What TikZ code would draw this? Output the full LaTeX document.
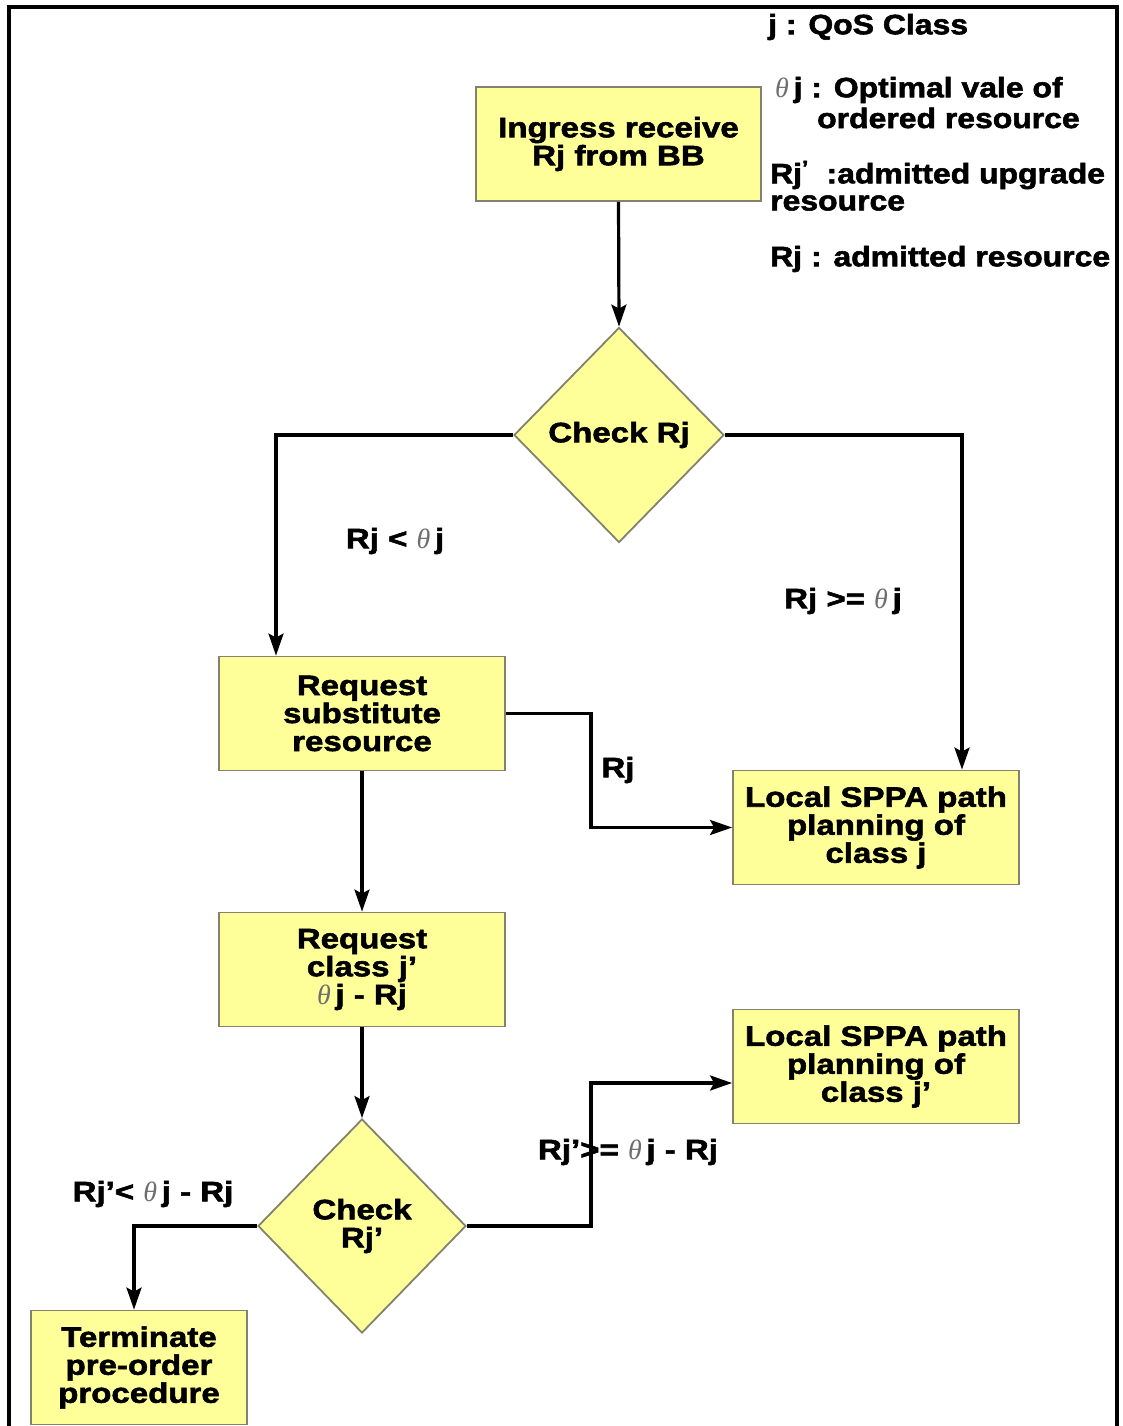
\documentclass[tikz,border=0pt]{standalone}
\usepackage{fontspec}
\setmainfont{Liberation Sans}
\newfontfamily\lblfont{Liberation Sans Bold}[FakeStretch=1.18,FakeBold=2]
\newfontfamily\lgdfont{Liberation Sans Bold}[FakeStretch=1.14,FakeBold=2]
\newfontfamily\thetafont{Liberation Serif Italic}
\usetikzlibrary{shapes.geometric,arrows.meta}
\definecolor{boxfill}{RGB}{255,255,153}
\definecolor{boxborder}{RGB}{130,130,110}
\definecolor{thetagray}{RGB}{110,110,110}
\newcommand\tht{{\thetafont\color{thetagray}θ}\,}
\tikzset{
  txt/.style={font=\lblfont\fontsize{28}{28}\selectfont, align=center, inner sep=0pt},
  stepbox/.style={txt, draw=boxborder, fill=boxfill, line width=1.8pt, minimum width=286pt, minimum height=114pt},
  decision/.style={txt, diamond, draw=boxborder, fill=boxfill, line width=1.8pt, minimum width=210pt, minimum height=215pt},
  arr/.style={line width=3.2pt, -{Stealth[length=22pt,width=15pt,inset=4pt]}},
  lgd/.style={txt, font=\lgdfont\fontsize{28}{28}\selectfont, anchor=west, align=left},
}
\begin{document}
\begin{tikzpicture}[x=1pt,y=-1pt]
\useasboundingbox (0,0) rectangle (1122,1426);
\fill[white] (0,0) rectangle (1122,1426);
\draw[line width=3.2pt] (9,1426) -- (9,7) -- (1117,7) -- (1117,1426);

% legend
\node[lgd] (l1) at (768,27) {j : QoS Class};
\node[lgd] (l2) at (775,90) {\tht j : Optimal vale of};
\node[lgd] (l3) at (817,118) {ordered resource};
\node[lgd] (l4) at (770,175) {Rj\textsuperscript{’}\ \ :admitted upgrade};
\node[lgd] (l5) at (770,203) {resource};
\node[lgd] (l6) at (770,259) {Rj : admitted resource};

% nodes
\node[stepbox, minimum width=285pt] (b1) at (618.5,144) {Ingress receive\\Rj from BB};
\node[decision] (d1) at (619,435) {Check Rj};
\node[stepbox] (b2) at (362,713.5) {Request\\substitute\\resource};
\node[stepbox] (b3) at (876,827.5) {Local SPPA path\\planning of\\class j};
\node[stepbox] (b4) at (362,969.5) {Request\\class j’\\\tht j - Rj};
\node[decision, minimum width=208pt, minimum height=214pt] (d2) at (362,1226) {Check\\Rj’};
\node[stepbox] (b5) at (876,1066.5) {Local SPPA path\\planning of\\class j’};
\node[stepbox, minimum width=216pt] (b6) at (139,1367.5) {Terminate\\pre-order\\procedure};

% connectors
\draw[arr] (b1.south) -- (d1.north);
\draw[arr] (d1.west) -| ([xshift=-86pt]b2.north);
\draw[arr] (d1.east) -| ([xshift=86pt]b3.north);
\draw[arr] (b2.east) -- ++(85,0) |- (b3.west);
\draw[arr] (b2.south) -- (b4.north);
\draw[arr] (b4.south) -- (d2.north);
\draw[arr] (d2.east) -- ++(124,0) |- ([yshift=-16.5pt]b5.west);
\draw[arr] (d2.west) -| ([xshift=-5pt]b6.north);

% edge labels
\node[txt] (e1) at (395,541) {Rj < \tht j};
\node[txt] (e2) at (843,601) {Rj >= \tht j};
\node[txt] (e3) at (618,770) {Rj};
\node[txt] (e4) at (628,1152) {Rj’>= \tht j - Rj};
\node[txt] (e5) at (153,1194) {Rj’< \tht j - Rj};
\end{tikzpicture}
\end{document}
